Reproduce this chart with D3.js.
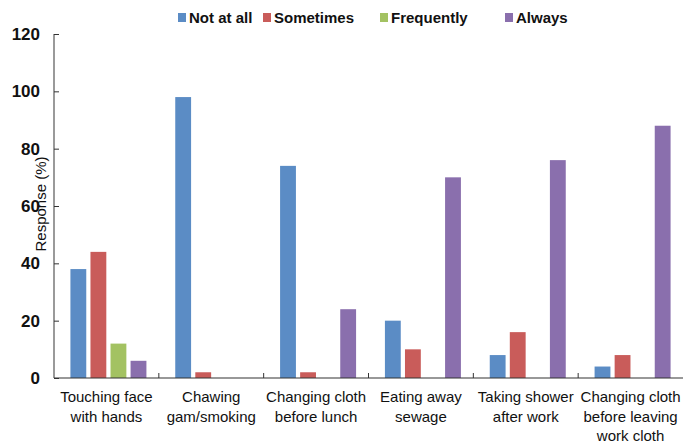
<!DOCTYPE html>
<html><head><meta charset="utf-8">
<script src="https://cdn.jsdelivr.net/npm/d3@7"></script>
<style>body{margin:0;background:#fff}svg{display:block}</style>
</head><body>
<svg id="c" width="683" height="444"></svg>
<script>
const categories = [
  ["Touching face","with hands"],
  ["Chawing","gam/smoking"],
  ["Changing cloth","before lunch"],
  ["Eating away","sewage"],
  ["Taking shower","after work"],
  ["Changing cloth","before leaving","work cloth"]
];
const seriesNames = ["Not at all","Sometimes","Frequently","Always"];
const colors = ["#5b8cc5","#c95c5a","#a3c262","#8a6fad"];
const notAtAll   = [38, 98, 74, 20, 8, 4];
const sometimes  = [44, 2, 2, 10, 16, 8];
const frequently = [12, 0, 0, 0, 0, 0];
const always     = [6, 0, 24, 70, 76, 88];
const yTicks = [0,20,40,60,80,100,120];

const series = [notAtAll, sometimes, frequently, always];
const svg = d3.select("#c");
const font = "'Liberation Sans',Arial,sans-serif";
const pL = 54, pR = 683, pT = 34, pB = 378;

const x = d3.scaleBand().domain(d3.range(categories.length)).range([pL, pR]).padding(0);
const y = d3.scaleLinear().domain([0,120]).range([pB, pT]);
const inner = d3.scaleBand().domain(d3.range(4)).range([0, 76]).paddingInner(0.21);
const groupOffset = (x.bandwidth() - 76) / 2 + 2;

// bars
series.forEach((vals, si) => {
  const pts = vals.map((v, i) => ({v, i})).filter(d => d.v > 0);
  svg.append("g").selectAll("rect").data(pts).join("rect")
    .attr("x", d => x(d.i) + groupOffset + inner(si))
    .attr("y", d => y(d.v))
    .attr("width", inner.bandwidth())
    .attr("height", d => pB - y(d.v))
    .attr("fill", colors[si]);
});

// y axis
const ya = svg.append("g").attr("transform", `translate(${pL},0)`)
  .call(d3.axisRight(y).tickValues(yTicks).tickSize(5).tickFormat(""));
ya.select(".domain").attr("stroke", "#9a9a9a").attr("stroke-width", 2).attr("d", `M0,${pT}V${pB}`);
ya.selectAll(".tick line").attr("stroke", "#333");
svg.append("g").selectAll("text").data(yTicks).join("text")
  .attr("x", 40).attr("y", d => y(d)).attr("dy", "0.35em")
  .attr("text-anchor", "end").attr("font-family", font).attr("font-weight", "bold")
  .attr("font-size", 17).attr("fill", "#111").text(d => d);

// x axis
svg.append("line").attr("x1", pL).attr("x2", pR).attr("y1", pB).attr("y2", pB)
  .attr("stroke", "#333").attr("stroke-width", 1.2);
svg.append("g").selectAll("line").data(d3.range(1, categories.length)).join("line")
  .attr("x1", i => x(i)).attr("x2", i => x(i)).attr("y1", pB).attr("y2", pB - 5)
  .attr("stroke", "#333");

// category labels
const cl = svg.append("g").selectAll("text").data(categories).join("text")
  .attr("text-anchor", "middle").attr("font-family", font).attr("font-size", 15).attr("fill", "#111")
  .attr("transform", (d,i) => `translate(${x(i) + x.bandwidth()/2},0)`);
cl.selectAll("tspan").data(d => d).join("tspan")
  .attr("x", 0).attr("y", (d,j) => 402 + j * 19.5).text(d => d);

// y label
svg.append("text").attr("transform", "translate(46,204) rotate(-90)")
  .attr("text-anchor", "middle").attr("font-family", font).attr("font-size", 15).attr("fill", "#111")
  .text("Response (%)");

// legend
const legX = [178, 263, 380, 505];
const lg = svg.append("g").selectAll("g").data(seriesNames).join("g")
  .attr("transform", (d,i) => `translate(${legX[i]},18)`);
lg.append("rect").attr("x", 0).attr("y", -5).attr("width", 8).attr("height", 9)
  .attr("fill", (d,i) => colors[i]);
lg.append("text").attr("x", 11).attr("y", 0).attr("dy", "0.35em")
  .attr("font-family", font).attr("font-weight", "bold").attr("font-size", 15).attr("fill", "#111")
  .text(d => d);
</script>
</body></html>
